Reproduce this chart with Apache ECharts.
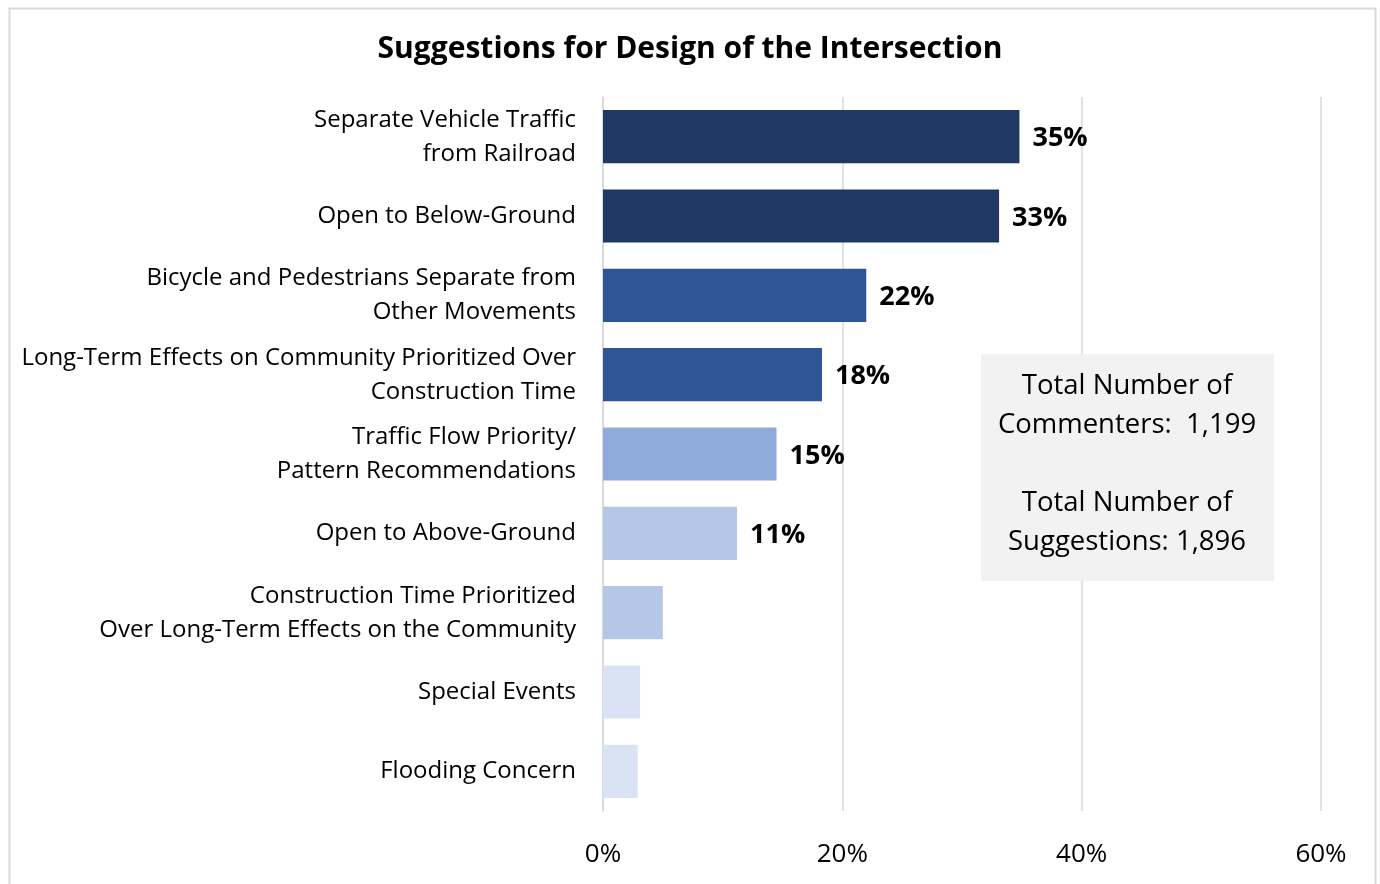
<!DOCTYPE html>
<html><head><meta charset="utf-8">
<script src="https://cdn.jsdelivr.net/npm/echarts@6/dist/echarts.min.js"></script>
<style>html,body{margin:0;padding:0;background:#fff}#c{width:1380px;height:884px}</style>
</head><body><div id="c"></div>
<script>
const categories = [
  "Separate Vehicle Traffic\nfrom Railroad",
  "Open to Below-Ground",
  "Bicycle and Pedestrians Separate from\nOther Movements",
  "Long-Term Effects on Community Prioritized Over\nConstruction Time",
  "Traffic Flow Priority/\nPattern Recommendations",
  "Open to Above-Ground",
  "Construction Time Prioritized\nOver Long-Term Effects on the Community",
  "Special Events",
  "Flooding Concern"
];
const values = [34.8, 33.1, 22.0, 18.3, 14.5, 11.2, 5.0, 3.1, 2.9];
const showLabel = [true, true, true, true, true, true, false, false, false];
const barColors = ["#1F3864","#1F3864","#2F5597","#2F5597","#8FAADC","#B4C7E7","#B4C7E7","#DAE3F3","#DAE3F3"];
const xTicks = [0, 20, 40, 60];
const boxText = "Total Number of\nCommenters:  1,199\n\nTotal Number of\nSuggestions: 1,896";

const FONT = "'Open Sans', 'Noto Sans', sans-serif";
const chart = echarts.init(document.getElementById('c'));
chart.setOption({
  animation: false,
  title: {
    text: "Suggestions for Design of the Intersection",
    left: 'center', top: 29,
    textStyle: {fontFamily: FONT, fontSize: 30, fontWeight: 'bold', color: '#000'}
  },
  grid: {left: 603, right: 59, top: 97, bottom: 73, containLabel: false},
  xAxis: {
    type: 'value', min: 0, max: 60, interval: 20,
    axisLine: {show: false}, axisTick: {show: false},
    splitLine: {lineStyle: {color: '#D9D9D9', width: 1.5}},
    axisLabel: {formatter: v => v + '%', fontFamily: FONT, fontSize: 26, color: '#000', margin: 31}
  },
  yAxis: {
    type: 'category', inverse: true, data: categories,
    axisLine: {show: true, lineStyle: {color: '#D9D9D9', width: 1.5}},
    axisTick: {show: false},
    axisLabel: {fontFamily: FONT, fontSize: 24, color: '#000', margin: 27, lineHeight: 34, align: 'right', padding: [4, 0, 0, 0]}
  },
  series: [{
    type: 'bar', barCategoryGap: '33%',
    data: values.map((v, i) => ({
      value: v,
      itemStyle: {color: barColors[i]},
      label: {show: showLabel[i]}
    })),
    label: {
      position: 'right', distance: 13, offset: [0, 2],
      formatter: p => Math.round(p.value) + '%',
      fontFamily: FONT, fontSize: 27, fontWeight: 'bold', color: '#000'
    }
  }],
  graphic: [
    {type: 'rect', left: 7, top: 6, shape: {width: 1366, height: 890},
     style: {fill: 'none', stroke: '#D9D9D9', lineWidth: 2}, silent: true},
    {type: 'rect', left: 981, top: 354, shape: {width: 293, height: 227},
     style: {fill: '#F2F2F2'}, z: 10},
    {type: 'text', x: 1127, y: 367, z: 11,
     style: {text: boxText, fontFamily: FONT, fontSize: 27.5, lineHeight: 39, fill: '#000', align: 'center', verticalAlign: 'top'}}
  ]
});
</script></body></html>
